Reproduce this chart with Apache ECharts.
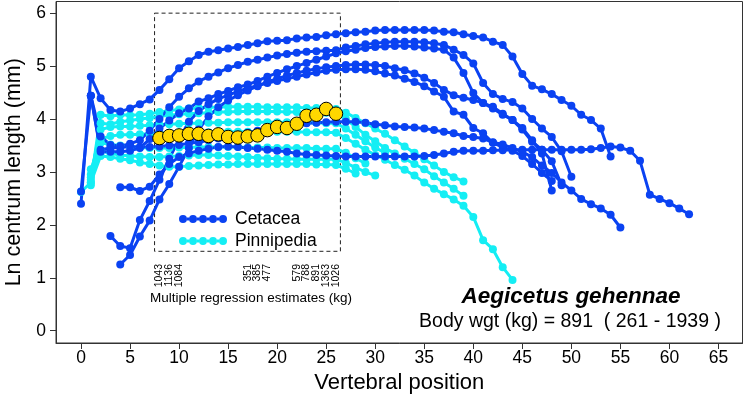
<!DOCTYPE html>
<html><head><meta charset="utf-8">
<script src="https://cdn.jsdelivr.net/npm/echarts@6/dist/echarts.min.js"></script>
<style>html,body{margin:0;padding:0;background:#fff}#c{width:744px;height:401px}</style>
</head><body><div id="c"></div>
<script>
// ---- axis ticks ----
const xTicks = [0,5,10,15,20,25,30,35,40,45,50,55,60,65];
const yTicks = [0,1,2,3,4,5,6];

// ---- Cetacea (first vertebral position of each series, then values) ----
const cet1Start = 0;
const cet1 = [2.40,4.80,4.39,4.17,4.14,4.20,4.28,4.37,4.55,4.75,4.96,5.09,5.21,5.27,5.30,5.33,5.36,5.40,5.43,5.47,5.48,5.49,5.52,5.54,5.55,5.58,5.60,5.62,5.64,5.65,5.67,5.68,5.68,5.68,5.68,5.68,5.67,5.65,5.64,5.60,5.57,5.54,5.46,5.40,5.18,4.85,4.63,4.56,4.47,4.36,4.25,4.08,3.98,3.82,3.29];
const cet2Start = 0;
const cet2 = [2.63,4.44,3.67,3.51,3.49,3.53,3.60,3.78,4.00,4.22,4.42,4.58,4.71,4.80,4.88,4.96,5.02,5.08,5.12,5.16,5.20,5.23,5.25,5.27,5.28,5.29,5.30,5.35,5.38,5.41,5.43,5.45,5.46,5.46,5.46,5.45,5.43,5.40,5.31,5.21,5.05,4.68,4.47,4.38,4.32,4.20,4.00,3.82,3.66,3.39,2.91];
const cet3Start = 1;
const cet3 = [4.44,3.38,3.38,3.38,3.40,3.45,3.62,3.82,3.97,4.11,4.20,4.33,4.39,4.47,4.53,4.60,4.65,4.72,4.80,4.87,4.94,5.00,5.06,5.12,5.18,5.24,5.28,5.31,5.34,5.36,5.37,5.38,5.38,5.37,5.35,5.33,5.31,5.16,4.87,4.49,4.30,4.20,4.08,3.98,3.83,3.60,3.35,2.65];
const cet4Start = 3;
const cet4 = [1.79,1.60,1.56,2.09,2.45,2.85,3.25,3.62,3.95,4.15,4.28,4.38,4.45,4.52,4.58,4.63,4.68,4.72,4.76,4.80,4.84,4.88,4.91,4.93,4.94,4.94,4.93,4.90,4.86,4.82,4.76,4.70,4.62,4.52,4.42,4.14,4.08,3.83,3.73,3.55,3.47,3.40,3.30,3.15,2.98,2.83];
const cet5Start = 4;
const cet5 = [1.25,1.43,1.78,2.08,2.48,2.77,3.10,3.45,3.80,4.05,4.22,4.35,4.45,4.54,4.62,4.70,4.76,4.82,4.87,4.91,4.95,4.98,5.00,5.02,5.03,5.03,5.02,5.00,4.96,4.92,4.86,4.78,4.68,4.55,4.45,4.40,4.36,4.30,4.23,4.10,3.98,3.80,3.57,3.42,3.20,2.75];
const cet6Start = 4;
const cet6 = [2.71,2.71,2.64,2.72,2.95,3.15,3.28,3.35,3.40,3.44,3.47,3.48,3.47,3.45,3.44,3.42,3.40,3.38,3.35,3.33,3.32,3.31,3.30,3.29,3.29,3.29,3.29,3.29,3.29,3.29,3.29,3.30,3.32,3.35,3.38,3.40,3.40,3.40,3.41,3.41,3.42,3.42,3.42,3.42,3.42,3.42,3.42,3.42,3.43,3.45,3.48,3.46,3.40,3.21,2.57,2.49,2.41,2.31,2.20];
const cet7Start = 1;
const cet7 = [4.44,3.42,3.45,3.46,3.48,3.47,3.47,3.48,3.50,3.51,3.54,3.56,3.60,3.63,3.66,3.70,3.74,3.78,3.82,3.85,3.88,3.90,3.92,3.93,3.94,3.95,3.95,3.95,3.93,3.90,3.88,3.86,3.85,3.84,3.82,3.79,3.76,3.73,3.68,3.66,3.63,3.56,3.52,3.45,3.38,3.28,3.12,2.98,2.80,2.65,2.49,2.39,2.31,2.19,1.95];

// ---- Pinnipedia ----
const pin1Start = 1;
const pin1 = [2.80,4.08,4.05,4.08,4.07,4.08,4.10,4.13,4.16,4.18,4.20,4.21,4.22,4.22,4.23,4.23,4.23,4.23,4.22,4.22,4.22,4.22,4.21,4.21,4.20,4.19,4.12,4.02,3.92,3.82,3.72,3.60,3.48,3.36,3.24,3.12,3.00,2.90,2.82];
const pin2Start = 1;
const pin2 = [2.85,3.92,3.90,3.95,3.97,4.00,4.02,4.05,4.07,4.09,4.10,4.11,4.12,4.13,4.13,4.14,4.14,4.14,4.14,4.14,4.13,4.13,4.13,4.12,4.12,4.11,4.00,3.85,3.70,3.58,3.45,3.35,3.25,3.15,3.05,2.92,2.80,2.68,2.55];
const pin3Start = 1;
const pin3 = [2.95,3.80,3.85,3.86,3.86,3.87,3.88,3.89,3.90,3.91,3.92,3.92,3.93,3.93,3.94,3.94,3.94,3.94,3.94,3.94,3.94,3.93,3.93,3.93,3.92,3.92,3.82,3.70,3.58,3.46,3.36];
const pin4Start = 1;
const pin4 = [2.75,3.62,3.68,3.70,3.70,3.71,3.72,3.73,3.74,3.74,3.75,3.75,3.75,3.76,3.76,3.76,3.76,3.76,3.76,3.76,3.76,3.76,3.75,3.75,3.75,3.74,3.64,3.53,3.42,3.32,3.23,3.13,3.04,2.93,2.80,2.68,2.58,2.48,2.36,2.15,1.71,1.54,1.20,0.96];
const pin5Start = 1;
const pin5 = [3.05,3.55,3.52,3.50,3.48,3.46,3.45,3.45,3.45,3.46,3.46,3.47,3.47,3.47,3.47,3.47,3.46,3.46,3.46,3.45,3.45,3.45,3.45,3.44,3.44,3.44,3.36,3.26,3.16];
const pin6Start = 1;
const pin6 = [2.90,3.40,3.35,3.32,3.30,3.29,3.28,3.28,3.29,3.30,3.31,3.32,3.32,3.31,3.30,3.29,3.28,3.27,3.26,3.25,3.25,3.24,3.24,3.24,3.24,3.24,3.17,3.08,3.00,2.93];
const pin7Start = 0;
const pin7 = [2.62,2.80,3.30,3.28,3.25,3.22,3.18,3.15,3.12,3.10,3.10,3.11,3.12,3.13,3.14,3.14,3.15,3.15,3.15,3.15,3.15,3.15,3.15,3.15,3.14,3.14,3.13,3.06,2.97];

// ---- Aegicetus gehennae ----
const aegStart = 8;
const aegicetus = [3.64,3.68,3.69,3.72,3.72,3.68,3.71,3.66,3.65,3.67,3.69,3.79,3.85,3.83,3.91,4.06,4.08,4.19,4.10];
const estPositions = [8,9,10,17,18,19,22,23,24,25,26];
const estLabels = ['1043','1136','1084','351','385','477','579','788','891','1363','1026'];

const FONT = "'Liberation Sans', Arial, Helvetica, sans-serif";
const BLUE = '#0a42f2';
const CYAN = '#14eef4';

function pts(start, vals){ return vals.map((v,i)=>[start+i, v]); }

const cetacea = [[cet1Start,cet1],[cet2Start,cet2],[cet3Start,cet3],[cet4Start,cet4],[cet5Start,cet5],[cet6Start,cet6],[cet7Start,cet7]];
const pinnipedia = [[pin1Start,pin1],[pin2Start,pin2],[pin3Start,pin3],[pin4Start,pin4],[pin5Start,pin5],[pin6Start,pin6],[pin7Start,pin7]];

function lineSeries(name, color, s){
  return {
    type:'line', name:name, data:pts(s[0], s[1]),
    symbol:'circle', symbolSize:8, showSymbol:true,
    lineStyle:{color:color, width:3}, itemStyle:{color:color},
    emphasis:{disabled:true}, silent:true, z:2
  };
}

// legend icon: a short line with five dots
let icon = 'path://';
const cx = [4,14,24,34,44];
cx.forEach((c,i)=>{
  icon += 'M'+(c-4)+',4 a4,4 0 1,0 8,0 a4,4 0 1,0 -8,0 Z ';
  if(i<cx.length-1){ icon += 'M'+(c+4)+',2.5 L'+(c+6)+',2.5 L'+(c+6)+',5.5 L'+(c+4)+',5.5 Z '; }
});

const series = [];
pinnipedia.forEach(s=>series.push(lineSeries('Pinnipedia', CYAN, s)));
cetacea.forEach(s=>series.push(lineSeries('Cetacea', BLUE, s)));
series.push({
  type:'scatter', name:'Aegicetus', data:pts(aegStart, aegicetus),
  symbol:'circle', symbolSize:13.5,
  itemStyle:{color:'#ffd700', borderColor:'#000', borderWidth:1, opacity:1},
  emphasis:{disabled:true}, silent:true, z:5,
  markArea:{silent:true, itemStyle:{color:'rgba(0,0,0,0)', borderColor:'#222', borderWidth:1, borderType:[4,3]},
    data:[[{coord:[7.5,6.0]},{coord:[26.45,1.5]}]]}
});
series.push({
  type:'scatter', name:'estimates', silent:true, z:6,
  data: estPositions.map((p,i)=>({value:[p, 1.28], name:estLabels[i]})),
  symbolSize:1, itemStyle:{color:'rgba(0,0,0,0)'},
  label:{show:true, formatter:'{b}', position:'inside', rotate:90, align:'right', verticalAlign:'middle',
    offset:[-1,0], fontSize:10.5, fontFamily:FONT, color:'#000', opacity:1}
});

const chart = echarts.init(document.getElementById('c'));
chart.setOption({
  animation:false,
  backgroundColor:'#fff',
  grid:{left:56, right:1.5, top:1.5, bottom:58, show:true, borderColor:'#333', borderWidth:1,
        containLabel:false, outerBoundsMode:'none'},
  legend:{
    data:['Cetacea','Pinnipedia'], orient:'vertical', left:174, top:205,
    itemWidth:48, itemHeight:8, itemGap:4, icon:icon,
    textStyle:{fontSize:17.5, fontFamily:FONT, color:'#000', lineHeight:17, padding:[0,0,0,3]},
    selectedMode:false
  },
  xAxis:{
    type:'value', min:-2.55, max:67.45,
    name:'Vertebral position', nameLocation:'middle', nameGap:28,
    nameTextStyle:{fontSize:22, fontFamily:FONT, color:'#000'},
    axisLine:{show:true, onZero:false, lineStyle:{color:'#333', width:1}},
    axisTick:{show:true, length:6, customValues:xTicks, lineStyle:{color:'#333'}},
    axisLabel:{customValues:xTicks, fontSize:17.5, fontFamily:FONT, color:'#000', margin:6},
    splitLine:{show:false}
  },
  yAxis:{
    type:'value', min:-0.2325, max:6.22,
    name:'Ln centrum length (mm)', nameLocation:'middle', nameGap:28,
    nameTextStyle:{fontSize:21.5, fontFamily:FONT, color:'#000'},
    axisLine:{show:true, onZero:false, lineStyle:{color:'#333', width:1}},
    axisTick:{show:true, length:6, customValues:yTicks, lineStyle:{color:'#333'}},
    axisLabel:{customValues:yTicks, fontSize:17.5, fontFamily:FONT, color:'#000', margin:10},
    splitLine:{show:false}
  },
  graphic:[
    {type:'text', silent:true, style:{text:'Multiple regression estimates (kg)', x:251, y:298, align:'center', verticalAlign:'middle', fontSize:13.5, fontFamily:FONT, fill:'#000'}},
    {type:'text', silent:true, style:{text:'Aegicetus gehennae', x:571, y:297, align:'center', verticalAlign:'middle', fontSize:22.5, fontWeight:'bold', fontStyle:'italic', fontFamily:FONT, fill:'#000'}},
    {type:'text', silent:true, style:{text:'Body wgt (kg) = 891  ( 261 - 1939 )', x:570, y:322, align:'center', verticalAlign:'middle', fontSize:19.5, fontFamily:FONT, fill:'#000'}}
  ],
  series:series
});
</script></body></html>
